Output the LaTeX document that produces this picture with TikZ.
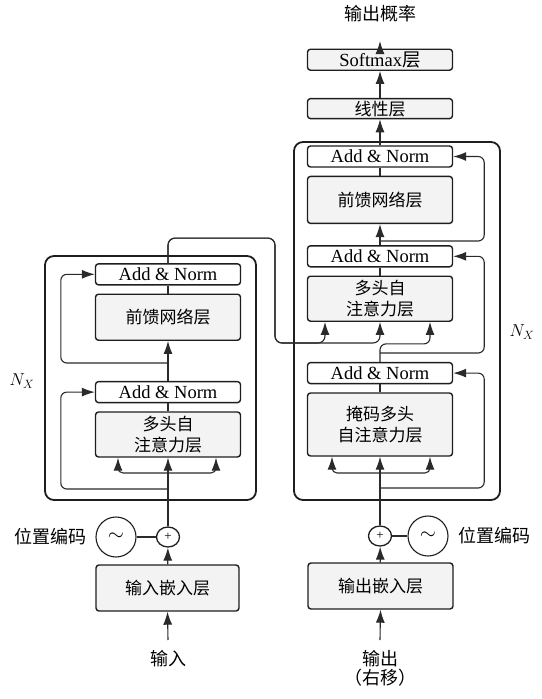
\documentclass[tikz,border=0pt]{standalone}
\usepackage{fontspec}
\setmainfont{Liberation Serif}
\newfontfamily\cjk{Noto Sans CJK SC}
\usetikzlibrary{arrows.meta,positioning,calc,shapes.geometric}
\definecolor{ink}{HTML}{1E1E1E}
\definecolor{wire}{HTML}{2A2A2A}
\definecolor{cell}{HTML}{F3F3F3}

\begin{document}
\begin{tikzpicture}[x=1pt,y=1pt,
  box/.style={draw=ink,fill=cell,line width=1.4pt,rounded corners=3pt,inner sep=0pt,minimum width=145pt,align=center,font=\cjk\fontsize{17}{21}\selectfont},
  addnorm/.style={box,fill=white,minimum height=21pt,font=\fontsize{18.5}{20}\selectfont},
  frame/.style={draw=ink,line width=1.8pt,rounded corners=9pt,inner sep=0pt},
  plus/.style={ellipse,draw=ink,line width=1.3pt,inner sep=0pt,minimum width=23pt,minimum height=20pt,font=\fontsize{13}{13}\selectfont},
  wave/.style={circle,draw=ink,line width=1.1pt,inner sep=0pt,minimum size=40pt,font=\fontsize{22}{22}\selectfont},
  lbl/.style={font=\cjk\fontsize{18}{19}\selectfont,align=center,inner sep=0pt},
  arr/.style={-{Latex[length=13pt,width=9pt]},color=wire,line width=1.1pt},
  link/.style={color=wire,line width=1.1pt}]
  \useasboundingbox (0,0) rectangle (541,-699);
  % encoder
  \node[frame,minimum width=211pt,minimum height=244pt] (encframe) at (150.5,-378) {};
  \node[box,minimum height=45pt] (encatt) at (168,-434.5) {多头自\\注意力层};
  \node[addnorm,above=8pt of encatt] (encan1) {Add \& Norm};
  \node[box,minimum height=46pt,above=40pt of encan1] (encff) {前馈网络层};
  \node[addnorm,above=8pt of encff] (encan2) {Add \& Norm};
  \node[plus] (encplus) at (168,-537) {+};
  \node[wave] (encpe) at (116,-537) {$\sim$};
  \node[lbl,left=9pt of encpe] (encpelbl) {位置编码};
  \node[box,minimum width=143pt,minimum height=46pt] (encemb) at (167.5,-588) {输入嵌入层};
  \node[lbl] (encinlbl) at (168,-659) {输入};
  \coordinate (encin) at (168,-640);
  \node[font=\fontsize{18}{20}\selectfont] (encnx) at (22,-381) {$N_X$};
  % decoder
  \node[frame,minimum width=206pt,minimum height=358pt] (decframe) at (397,-321) {};
  \node[box,minimum height=63pt] (decatt1) at (380,-424.5) {掩码多头\\自注意力层};
  \node[addnorm,above=8pt of decatt1] (decan1) {Add \& Norm};
  \node[box,minimum height=45pt,above=40pt of decan1] (decatt2) {多头自\\注意力层};
  \node[addnorm,above=8pt of decatt2] (decan2) {Add \& Norm};
  \node[box,minimum height=47pt,above=21pt of decan2] (decff) {前馈网络层};
  \node[addnorm,above=8pt of decff] (decan3) {Add \& Norm};
  \node[box,minimum height=20pt,above=26pt of decan3] (linear) {线性层};
  \node[box,minimum height=21pt,above=27pt of linear,font=\fontsize{18.5}{20}\selectfont] (softmax) {Softmax{\cjk 层}};
  \node[lbl] (outprob) at (380,-14) {输出概率};
  \coordinate (outtip) at (380,-41);
  \node[plus] (decplus) at (380,-536) {+};
  \node[wave] (decpe) at (428,-536) {$\sim$};
  \node[lbl,right=10pt of decpe] (decpelbl) {位置编码};
  \node[box,minimum height=46pt] (decemb) at (380.5,-586) {输出嵌入层};
  \node[lbl] (decinlbl) at (380,-668.5) {输出\\（右移）};
  \coordinate (decin) at (380,-640);
  \node[font=\fontsize{18}{20}\selectfont] (decnx) at (522,-332) {$N_X$};
  % encoder wiring
  \draw[arr] (encin) -- (encemb.south);
  \draw[arr] (encemb) -- (encplus);
  \draw[link] (encpe) -- (encplus);
  \draw[arr] (encplus) -- (encatt);
  \coordinate (encsplit) at (168,-473);
  \coordinate (encres1) at (168,-489);
  \coordinate (encres2) at (168,-363);
  \draw[arr,rounded corners=5pt] (encsplit) -| ($(encatt.south)+(-50,0)$);
  \draw[arr,rounded corners=5pt] (encsplit) -| ($(encatt.south)+(48,0)$);
  \draw[arr,rounded corners=6pt] (encres1) -| ($(encan1.west)+(-34,0)$) -- (encan1.west);
  \draw[link] (encatt) -- (encan1);
  \draw[arr] (encan1) -- (encff);
  \draw[arr,rounded corners=6pt] (encres2) -| ($(encan2.west)+(-34,0)$) -- (encan2.west);
  \draw[link] (encff) -- (encan2);
  % encoder output into decoder
  \coordinate (cross) at (275,-343);
  \draw[arr,rounded corners=7pt] (encan2.north) -- ++(0,25) -| (cross) -| ($(decatt2.south)+(-55,0)$);
  \draw[arr,rounded corners=7pt] (encan2.north) -- ++(0,25) -| (cross) -| (decatt2.south);
  % decoder wiring
  \draw[arr] (decin) -- (decemb.south);
  \draw[arr] (decemb) -- (decplus);
  \draw[link] (decpe) -- (decplus);
  \draw[arr] (decplus) -- (decatt1);
  \coordinate (decsplit) at (380,-473);
  \coordinate (decres1) at (380,-488);
  \coordinate (decres2) at (380,-353);
  \coordinate (decres3) at (380,-241);
  \draw[arr,rounded corners=5pt] (decsplit) -| ($(decatt1.south)+(-48,0)$);
  \draw[arr,rounded corners=5pt] (decsplit) -| ($(decatt1.south)+(50,0)$);
  \draw[arr,rounded corners=6pt] (decres1) -| ($(decan1.east)+(31,0)$) -- (decan1.east);
  \draw[link] (decatt1) -- (decan1);
  \draw[arr,rounded corners=6pt] (decan1.north) -- ++(0,18) -| ($(decatt2.south)+(50,0)$);
  \draw[arr,rounded corners=6pt] (decres2) -| ($(decan2.east)+(31,0)$) -- (decan2.east);
  \draw[link] (decatt2) -- (decan2);
  \draw[arr] (decan2) -- (decff);
  \draw[arr,rounded corners=6pt] (decres3) -| ($(decan3.east)+(31,0)$) -- (decan3.east);
  \draw[link] (decff) -- (decan3);
  \draw[arr] (decan3) -- (linear);
  \draw[arr] (linear) -- (softmax);
  \draw[arr] (softmax) -- (outtip);
\end{tikzpicture}
\end{document}
